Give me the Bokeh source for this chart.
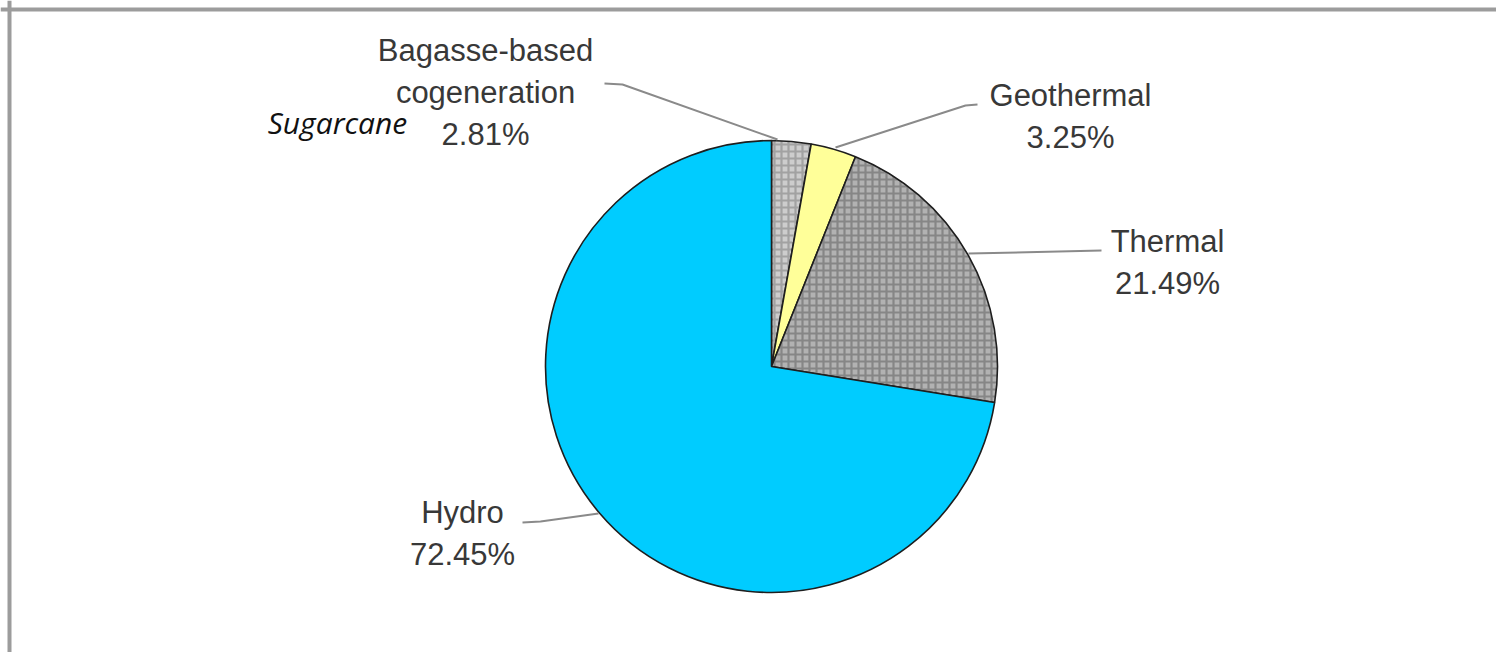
import math
from bokeh.plotting import figure
from bokeh.models import Range1d, Span, ColumnDataSource
from bokeh.core.properties import value
from bokeh.embed import file_html
from bokeh.resources import INLINE

# ---- data ----
categories = ["Bagasse-based\ncogeneration", "Geothermal", "Thermal", "Hydro"]
shares = [2.81, 3.25, 21.49, 72.45]
fill_colors = ["#cdcdcd", "#ffff99", "#b2b2b2", "#00ccff"]
hatch_patterns = ["+", " ", "+", " "]
hatch_colors = ["#a2a2a2", "#ffff99", "#868686", "#00ccff"]
note_text = "Sugarcane"

# ---- layout (pixel positions inside the figure) ----
W, H = 1496, 652
def Y(py):
    return H - py

cx, cy, R = 771, 366, 226
label_pos = [(485, 50), (1070, 95), (1167, 241), (462, 512)]
line_gap = 42
leaders = [
    [(604, 83), (622, 84), (777, 139)],
    [(977, 104), (965, 105), (835, 147)],
    [(1101, 250), (968, 253)],
    [(522, 522), (540, 521), (598, 513)],
]

p = figure(width=W, height=H, x_range=Range1d(0, W), y_range=Range1d(0, H),
           output_backend="svg", toolbar_location=None, min_border=0)
p.axis.visible = False
p.grid.visible = False
p.outline_line_color = None
p.background_fill_color = "white"
p.border_fill_color = "white"

# frame
p.add_layout(Span(location=Y(9), dimension="width", line_color="#9c9c9c", line_width=4))
p.add_layout(Span(location=9, dimension="height", line_color="#9c9c9c", line_width=4))

# wedges
starts, ends = [], []
cum = 0.0
for v in shares:
    starts.append(math.radians(90 - cum * 3.6))
    cum += v
    ends.append(math.radians(90 - cum * 3.6))
src = ColumnDataSource(dict(start=starts, end=ends, fill=fill_colors,
                            hp=hatch_patterns, hc=hatch_colors))
p.wedge(x=cx, y=Y(cy), radius=R, start_angle="start", end_angle="end", direction="clock",
        fill_color="fill", hatch_pattern="hp", hatch_color="hc", hatch_scale=7, hatch_weight=2.2,
        line_color="#1e1e1e", line_width=1.6, source=src)

# leader lines
for pts in leaders:
    p.line([q[0] for q in pts], [Y(q[1]) for q in pts], line_color="#8a8a8a", line_width=2)

# labels
xs, ys, ts = [], [], []
for (lx, ly), name, v in zip(label_pos, categories, shares):
    lines = name.split("\n") + [f"{v:.2f}%"]
    for k, t in enumerate(lines):
        xs.append(lx)
        ys.append(Y(ly + k * line_gap))
        ts.append(t)
p.text(x=xs, y=ys, text=ts, text_font=value("Liberation Sans"), text_font_size="31px",
       text_align="center", text_baseline="alphabetic", text_color="#383838")

p.text(x=[337], y=[Y(122)], text=[note_text], text_font=value("Open Sans"), text_font_size="30px",
       text_font_style="italic", text_align="center", text_baseline="alphabetic", text_color="#111111")

open("out.html", "w").write(file_html(p, INLINE))
